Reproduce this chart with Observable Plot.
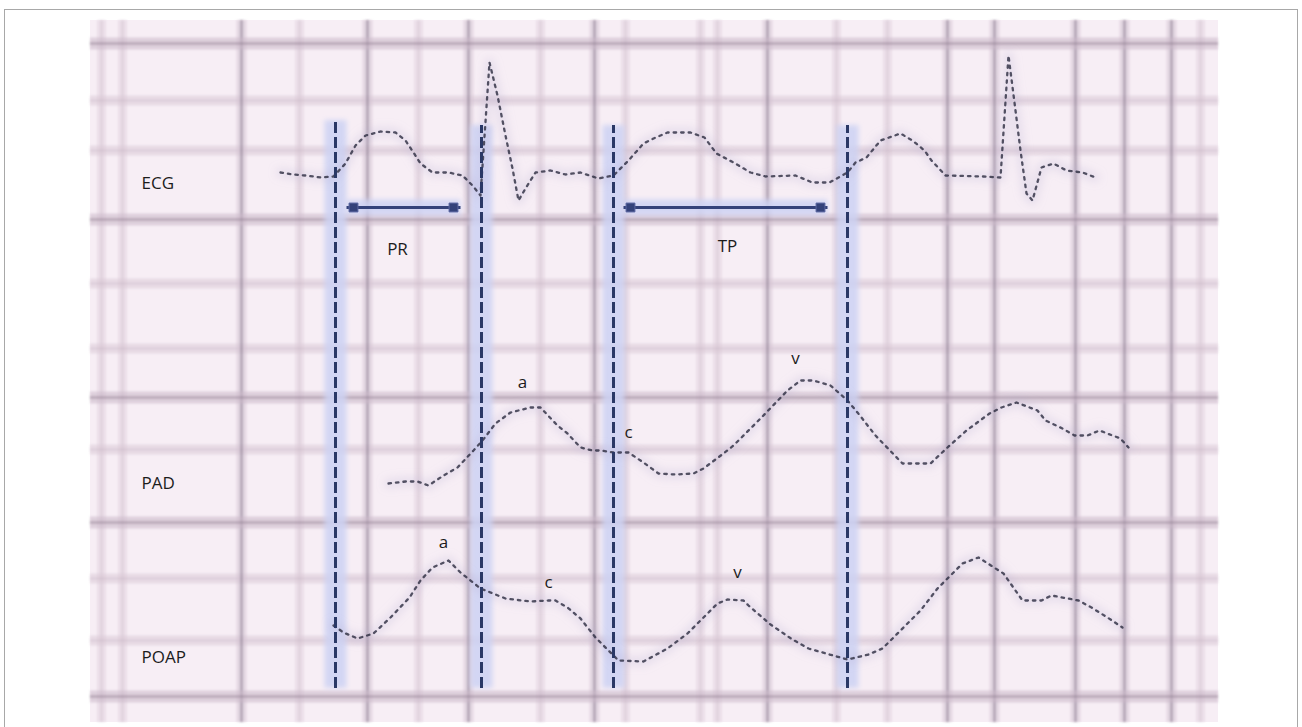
<!DOCTYPE html>
<html><head><meta charset="utf-8">
<script src="https://cdn.jsdelivr.net/npm/d3@7"></script>
<script src="https://cdn.jsdelivr.net/npm/@observablehq/plot@0.6"></script>
<style>
html,body{margin:0;padding:0;background:#fff;}
#wrap{position:relative;width:1302px;height:727px;overflow:hidden;}
#frame{position:absolute;left:4px;top:9px;width:1294px;height:760px;border:1px solid #a8a8a8;box-sizing:border-box;pointer-events:none;}
#chart{position:absolute;left:0;top:0;}
</style></head><body>
<div id="wrap"><div id="chart"></div><div id="frame"></div></div>
<script>
// time (t, samples from left edge of the paper) and height above the bottom of the paper (v)
const paperT = [0, 1128];
const paperV = [0, 702];

const gridMajorT = [151, 277, 378, 504, 677, 857, 904, 985, 1034, 1081];
const gridMinorT = [11, 32, 209, 328, 450, 535, 610, 627, 746, 797, 1110];
const gridMajorV = [679, 503, 325, 200, 26];
const gridMinorV = [622, 572, 439, 374, 273, 144, 82];

const ecg = [[190,550],[202,548],[215,547],[230,545],[243,546],[255,559],[265,577],[275,587],[290,591],[305,590],[315,582],[323,570],[330,559],[342,550],[358,550],[372,547],[382,537],[390,527],[399,660],[407,627],[415,587],[422,554],[428,522],[435,534],[445,550],[460,552],[475,548],[490,550],[508,544],[523,547],[538,562],[553,579],[563,584],[577,590],[600,590],[614,585],[626,569],[643,560],[660,550],[675,546],[705,547],[722,540],[739,540],[757,550],[765,560],[776,565],[790,582],[810,589],[822,582],[834,572],[841,562],[855,547],[893,546],[910,545],[918,667],[925,612],[930,572],[936,529],[942,522],[951,555],[963,559],[976,552],[992,550],[1005,545]];

const pad = [[298,239],[315,241],[327,241],[338,237],[353,247],[367,255],[383,272],[392,282],[405,299],[420,310],[440,315],[450,315],[467,297],[477,289],[490,275],[502,272],[510,272],[523,270],[538,270],[553,260],[568,249],[585,248],[603,249],[613,254],[633,269],[643,277],[670,304],[697,332],[710,342],[723,342],[740,337],[757,322],[767,310],[785,287],[812,259],[840,259],[857,275],[876,292],[899,309],[911,315],[926,320],[947,312],[955,302],[972,294],[984,287],[997,287],[1009,292],[1030,284],[1038,275]];

const poap = [[243,97],[253,90],[267,84],[283,89],[300,105],[319,125],[330,142],[342,155],[358,162],[370,150],[390,134],[415,124],[440,121],[458,122],[465,122],[477,115],[490,104],[505,85],[518,72],[528,62],[553,61],[577,74],[597,89],[627,119],[637,123],[653,122],[658,117],[680,98],[702,83],[718,74],[739,68],[757,63],[778,68],[792,74],[830,112],[847,134],[872,159],[888,165],[913,149],[932,122],[951,122],[961,127],[988,122],[1001,115],[1017,105],[1032,95]];

const markerT = [245, 391, 523, 757];
const markerTop = [602, 597, 597, 597];
const markerBottom = [34, 34, 34, 34];

const intervalNames = ["PR", "TP"];
const intervalStart = [256, 533];
const intervalEnd = [370, 737];
const intervalV = [515, 515];
const intervalLabelT = [307, 637];
const intervalLabelV = [473, 476];

const leadNames = ["ECG", "PAD", "POAP"];
const leadLabelV = [539, 239, 65];
const leadLabelT = 51;

const waveNames = ["a", "c", "v", "a", "c", "v"];
const waveT = [432, 538, 705, 353, 458, 647];
const waveV = [340, 290, 364, 180, 140, 150];

const markers = markerT.map((t, i) => ({t, top: markerTop[i], bottom: markerBottom[i]}));
const intervals = intervalNames.map((n, i) => ({n, t1: intervalStart[i], t2: intervalEnd[i], v: intervalV[i], lt: intervalLabelT[i], lv: intervalLabelV[i]}));
const heads = intervals.flatMap(d => [{t: d.t1 + 7, v: d.v}, {t: d.t2 - 7, v: d.v}]);
const leads = leadNames.map((n, i) => ({n, t: leadLabelT, v: leadLabelV[i]}));
const waves = waveNames.map((n, i) => ({n, t: waveT[i], v: waveV[i]}));

const gx = d => d[0], gy = d => d[1];

function traceMarks(data) {
  return [
    Plot.line(data, {x: gx, y: gy, stroke: "#b3abd0", strokeWidth: 9, strokeOpacity: 0.25, ariaDescription: "halo"}),
    Plot.line(data, {x: gx, y: gy, stroke: "#2a2a40", strokeWidth: 2.3, strokeDasharray: "2.5,5", strokeLinecap: "round", strokeOpacity: 0.8, ariaDescription: "trace"})
  ];
}

const chart = Plot.plot({
  width: 1302,
  height: 727,
  margin: 0,
  x: {domain: [-90, 1212], axis: null},
  y: {domain: [-5, 722], axis: null},
  style: {background: "transparent", fontFamily: "'Open Sans', sans-serif"},
  marks: [
    Plot.rect([0], {x1: paperT[0], x2: paperT[1], y1: paperV[0], y2: paperV[1], fill: "#f7eef5"}),
    // minor paper lines
    Plot.ruleX(gridMinorT, {y1: paperV[0], y2: paperV[1], stroke: "#dccbd9", strokeWidth: 9, strokeOpacity: 0.45, ariaDescription: "grid"}),
    Plot.ruleX(gridMinorT, {y1: paperV[0], y2: paperV[1], stroke: "#b09fb0", strokeWidth: 1.5, strokeOpacity: 0.3, ariaDescription: "grid"}),
    Plot.ruleY(gridMinorV, {x1: paperT[0], x2: paperT[1], stroke: "#d9c7d6", strokeWidth: 10, strokeOpacity: 0.5, ariaDescription: "grid"}),
    Plot.ruleY(gridMinorV, {x1: paperT[0], x2: paperT[1], stroke: "#b09fb0", strokeWidth: 1.6, strokeOpacity: 0.3, ariaDescription: "grid"}),
    // major paper lines
    Plot.ruleX(gridMajorT, {y1: paperV[0], y2: paperV[1], stroke: "#d2c0cf", strokeWidth: 10, strokeOpacity: 0.5, ariaDescription: "grid"}),
    Plot.ruleX(gridMajorT, {y1: paperV[0], y2: paperV[1], stroke: "#7a6b7e", strokeWidth: 2, strokeOpacity: 0.6, ariaDescription: "grid"}),
    Plot.ruleY(gridMajorV, {x1: paperT[0], x2: paperT[1], stroke: "#cbb8c8", strokeWidth: 12, strokeOpacity: 0.55, ariaDescription: "grid"}),
    Plot.ruleY(gridMajorV, {x1: paperT[0], x2: paperT[1], stroke: "#877789", strokeWidth: 2.2, strokeOpacity: 0.55, ariaDescription: "grid"}),
    // bluish halo around the markers
    Plot.ruleX(markers, {x: "t", y1: "bottom", y2: "top", stroke: "#cdd2f3", strokeWidth: 22, strokeOpacity: 0.85, ariaDescription: "halo2"}),
    Plot.link(intervals, {x1: "t1", x2: "t2", y1: "v", y2: "v", stroke: "#cdd2f3", strokeWidth: 16, strokeOpacity: 0.85, ariaDescription: "halo2"}),
    ...traceMarks(ecg),
    ...traceMarks(pad),
    ...traceMarks(poap),
    Plot.ruleX(markers, {x: "t", y1: "bottom", y2: "top", stroke: "#2c3866", strokeWidth: 3, strokeDasharray: "11,4", ariaDescription: "dash"}),
    Plot.link(intervals, {x1: "t1", x2: "t2", y1: "v", y2: "v", stroke: "#34427a", strokeWidth: 3}),
    Plot.dot(heads, {x: "t", y: "v", symbol: "square", r: 5, fill: "#34427a", stroke: "#5a66a0", strokeWidth: 1}),
    Plot.text(leads, {x: "t", y: "v", text: "n", textAnchor: "start", fontSize: 17, fill: "#1c1c1c"}),
    Plot.text(intervals, {x: "lt", y: "lv", text: "n", fontSize: 17, fill: "#1c1c1c"}),
    Plot.text(waves, {x: "t", y: "v", text: "n", fontSize: 17, fill: "#1c1c1c"})
  ]
});

// soften the scanned-paper look
const defs = d3.select(chart).insert("defs", ":first-child");
function blurFilter(id, sd) {
  defs.append("filter").attr("id", id).attr("filterUnits", "userSpaceOnUse")
    .attr("x", 0).attr("y", 0).attr("width", 1302).attr("height", 727)
    .append("feGaussianBlur").attr("stdDeviation", sd);
}
blurFilter("soft", 1.3);
blurFilter("softer", 4);
blurFilter("medium", 2.5);
blurFilter("tiny", 0.6);
d3.select(chart).selectAll('g[aria-description="grid"]').attr("filter", "url(#soft)");
d3.select(chart).selectAll('g[aria-description="halo"]').attr("filter", "url(#softer)");
d3.select(chart).selectAll('g[aria-description="halo2"]').attr("filter", "url(#medium)");
d3.select(chart).selectAll('g[aria-description="trace"], g[aria-description="dash"]').attr("filter", "url(#tiny)");
document.getElementById("chart").appendChild(chart);
</script></body></html>
